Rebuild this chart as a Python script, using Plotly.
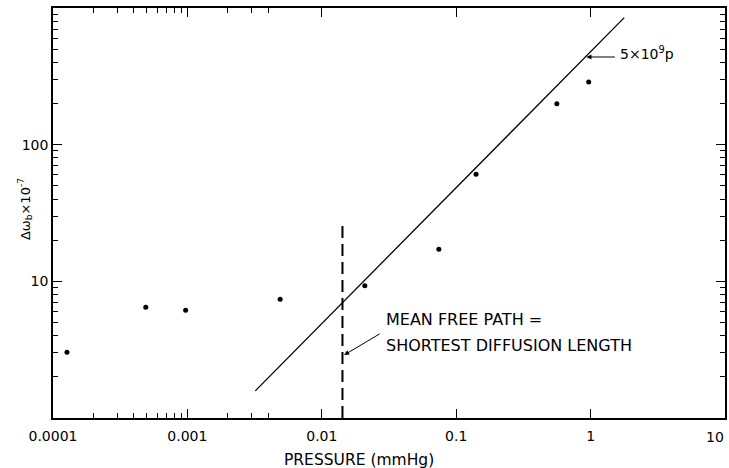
import plotly.graph_objects as go

# Data
pressure = [0.000127, 0.00049, 0.00097, 0.0049, 0.0209, 0.0743, 0.1406, 0.561, 0.968]
delta_omega = [3.03, 6.46, 6.14, 7.39, 9.29, 17.2, 60.7, 199, 287]

fit_x = [0.0032, 1.78]
fit_y = [1.58, 850]

mfp_x = [0.01425, 0.01425]
mfp_y = [1.0, 26.0]

x_tickvals = [0.0001, 0.001, 0.01, 0.1, 1]
x_ticktext = ["0.0001", "0.001", "0.01", "0.1", "1"]
x_edge_label = "10"
x_minor = [2e-4, 3e-4, 4e-4, 5e-4, 6e-4, 7e-4, 8e-4, 9e-4, 2e-3, 3e-3, 4e-3]
y_tickvals = [10, 100]
y_ticktext = ["10", "100"]
y_minor = [m * d for d in (1, 10, 100) for m in range(2, 10)]

W, H = 729, 468
L, R, T, B = 53, 2, 8, 50
PW, PH = W - L - R, H - T - B


def px(x):
    return (x - L) / PW


def py(y):
    return (H - B - y) / PH


FONT = "DejaVu Sans"

fig = go.Figure()
fig.add_trace(go.Scatter(x=fit_x, y=fit_y, mode="lines",
                         line=dict(color="black", width=1.3), showlegend=False))
fig.add_trace(go.Scatter(x=mfp_x, y=mfp_y, mode="lines",
                         line=dict(color="black", width=2, dash="12px,6px"), showlegend=False))
fig.add_trace(go.Scatter(x=pressure, y=delta_omega, mode="markers",
                         marker=dict(color="black", size=5), showlegend=False))

axis_common = dict(showline=True, linecolor="black", linewidth=1.5, mirror="ticks",
                   ticks="inside", tickcolor="black", tickwidth=1.2, showgrid=False,
                   zeroline=False, tickfont=dict(family=FONT, size=14, color="black"))

fig.update_xaxes(type="log", range=[-4, 1], tickmode="array", tickvals=x_tickvals,
                 ticktext=x_ticktext, ticklen=9, ticklabelstandoff=4,
                 minor=dict(tickvals=x_minor, ticks="inside", ticklen=5,
                            tickcolor="black", showgrid=False),
                 **axis_common)
fig.update_yaxes(type="log", range=[0, 3], tickmode="array", tickvals=y_tickvals,
                 ticktext=y_ticktext, ticklen=9,
                 minor=dict(tickvals=y_minor, ticks="inside", ticklen=5,
                            tickcolor="black", showgrid=False),
                 **axis_common)

annots = [
    dict(x=px(728), y=py(437), xref="paper", yref="paper", text=x_edge_label,
         showarrow=False, font=dict(family=FONT, size=14, color="black"),
         xanchor="right", yanchor="middle"),
    dict(x=px(360), y=py(460), xref="paper", yref="paper", text="PRESSURE (mmHg)",
         showarrow=False, font=dict(family=FONT, size=15.5, color="black"),
         xanchor="center", yanchor="middle"),
    dict(x=px(25), y=py(209), xref="paper", yref="paper",
         text="Δω<sub>b</sub>×10<sup>-7</sup>", textangle=-90,
         showarrow=False, font=dict(family=FONT, size=13, color="black"),
         xanchor="center", yanchor="middle"),
    dict(x=px(385), y=py(319), xref="paper", yref="paper", text="MEAN FREE PATH =",
         showarrow=False, font=dict(family=FONT, size=16, color="black"),
         xanchor="left", yanchor="middle"),
    dict(x=px(385), y=py(345), xref="paper", yref="paper", text="SHORTEST DIFFUSION LENGTH",
         showarrow=False, font=dict(family=FONT, size=16, color="black"),
         xanchor="left", yanchor="middle"),
    dict(x=px(345), y=py(355), xref="paper", yref="paper", text="",
         showarrow=True, ax=37, ay=-22, arrowhead=2, arrowsize=1, arrowwidth=1,
         arrowcolor="black"),
    dict(x=px(620), y=py(53), xref="paper", yref="paper", text="5×10<sup>9</sup>p",
         showarrow=False, font=dict(family=FONT, size=14, color="black"),
         xanchor="left", yanchor="middle"),
    dict(x=px(588), y=py(57), xref="paper", yref="paper", text="",
         showarrow=True, ax=30, ay=0, arrowhead=2, arrowsize=1, arrowwidth=1,
         arrowcolor="black"),
]

fig.update_layout(width=W, height=H, margin=dict(l=L, r=R, t=T, b=B),
                  paper_bgcolor="white", plot_bgcolor="white",
                  annotations=annots, showlegend=False)

fig.write_html("out.html")
